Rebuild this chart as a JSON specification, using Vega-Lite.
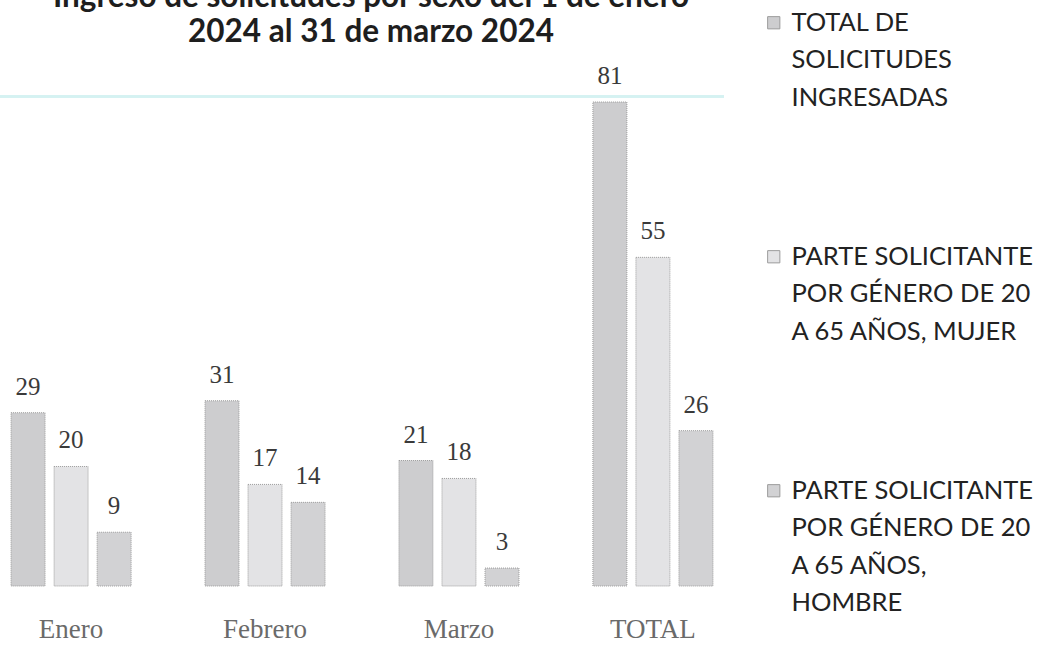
{
  "$schema": "https://vega.github.io/schema/vega-lite/v6.json",
  "autosize": {"type": "none"},
  "width": 724,
  "height": 484,
  "padding": {"top": 102, "left": 0, "right": 319, "bottom": 59},
  "background": "white",
  "title": {
    "text": ["Ingreso de solicitudes por sexo del 1 de enero", "2024 al 31 de marzo 2024"],
    "anchor": "start",
    "align": "center",
    "baseline": "alphabetic",
    "dx": 372,
    "font": "Lato",
    "fontSize": 31.5,
    "fontWeight": "bold",
    "color": "#1e1e1e",
    "lineHeight": 35,
    "offset": -63
  },
  "data": {
    "values": [
      {"mes": "Enero", "serie": "TOTAL DE SOLICITUDES INGRESADAS", "valor": 29},
      {"mes": "Enero", "serie": "PARTE SOLICITANTE POR GÉNERO DE 20 A 65 AÑOS, MUJER", "valor": 20},
      {"mes": "Enero", "serie": "PARTE SOLICITANTE POR GÉNERO DE 20 A 65 AÑOS, HOMBRE", "valor": 9},
      {"mes": "Febrero", "serie": "TOTAL DE SOLICITUDES INGRESADAS", "valor": 31},
      {"mes": "Febrero", "serie": "PARTE SOLICITANTE POR GÉNERO DE 20 A 65 AÑOS, MUJER", "valor": 17},
      {"mes": "Febrero", "serie": "PARTE SOLICITANTE POR GÉNERO DE 20 A 65 AÑOS, HOMBRE", "valor": 14},
      {"mes": "Marzo", "serie": "TOTAL DE SOLICITUDES INGRESADAS", "valor": 21},
      {"mes": "Marzo", "serie": "PARTE SOLICITANTE POR GÉNERO DE 20 A 65 AÑOS, MUJER", "valor": 18},
      {"mes": "Marzo", "serie": "PARTE SOLICITANTE POR GÉNERO DE 20 A 65 AÑOS, HOMBRE", "valor": 3},
      {"mes": "TOTAL", "serie": "TOTAL DE SOLICITUDES INGRESADAS", "valor": 81},
      {"mes": "TOTAL", "serie": "PARTE SOLICITANTE POR GÉNERO DE 20 A 65 AÑOS, MUJER", "valor": 55},
      {"mes": "TOTAL", "serie": "PARTE SOLICITANTE POR GÉNERO DE 20 A 65 AÑOS, HOMBRE", "valor": 26}
    ]
  },
  "encoding": {
    "y": {
      "field": "valor", "type": "quantitative",
      "scale": {"domain": [0, 81], "nice": false},
      "axis": null
    }
  },
  "layer": [
    {
      "mark": {"type": "rule", "color": "#d5f2f2", "strokeWidth": 2},
      "encoding": {"y": {"datum": 81.9}}
    },
    {
      "mark": {"type": "bar", "stroke": "#9c9c9c", "strokeWidth": 1, "strokeDash": [1, 1]},
      "encoding": {
        "x": {
          "field": "mes", "type": "nominal", "sort": ["Enero", "Febrero", "Marzo", "TOTAL"],
          "scale": {"paddingInner": 0.381, "paddingOuter": 0.057},
          "axis": {"title": null, "domain": false, "ticks": false, "labelAngle": 0, "labelFont": "Liberation Serif", "labelFontSize": 27, "labelColor": "#6a6a6a", "labelPadding": 30}
        },
        "xOffset": {
          "field": "serie", "type": "nominal",
          "sort": ["TOTAL DE SOLICITUDES INGRESADAS", "PARTE SOLICITANTE POR GÉNERO DE 20 A 65 AÑOS, MUJER", "PARTE SOLICITANTE POR GÉNERO DE 20 A 65 AÑOS, HOMBRE"],
          "scale": {"paddingInner": 0.21, "paddingOuter": 0}
        },
        "color": {
          "field": "serie", "type": "nominal",
          "sort": ["TOTAL DE SOLICITUDES INGRESADAS", "PARTE SOLICITANTE POR GÉNERO DE 20 A 65 AÑOS, MUJER", "PARTE SOLICITANTE POR GÉNERO DE 20 A 65 AÑOS, HOMBRE"],
          "scale": {"range": ["#cdcdcf", "#e3e3e5", "#d2d2d4"]},
          "legend": {
            "title": null,
            "orient": "none",
            "legendX": 761,
            "legendY": -92,
            "symbolType": "square",
            "symbolSize": 150,
            "symbolStrokeColor": "#9c9c9c",
            "symbolStrokeWidth": 1,
            "labelFont": "Lato",
            "labelFontSize": 25.5,
            "labelColor": "#222222",
            "labelLimit": 400,
            "labelOffset": 5,
            "rowPadding": 132,
            "labelExpr": "datum.label == 'PARTE SOLICITANTE POR GÉNERO DE 20 A 65 AÑOS, MUJER' ? ['PARTE SOLICITANTE', 'POR GÉNERO DE 20', 'A 65 AÑOS,  MUJER'] : datum.label == 'PARTE SOLICITANTE POR GÉNERO DE 20 A 65 AÑOS, HOMBRE' ? ['PARTE SOLICITANTE', 'POR GÉNERO DE 20', 'A 65 AÑOS,', 'HOMBRE'] : ['TOTAL DE', 'SOLICITUDES', 'INGRESADAS']"
          }
        }
      }
    },
    {
      "mark": {"type": "text", "baseline": "alphabetic", "dy": -18, "font": "Liberation Serif", "fontSize": 25, "color": "#3a3a3a"},
      "encoding": {
        "x": {"field": "mes", "type": "nominal", "sort": ["Enero", "Febrero", "Marzo", "TOTAL"]},
        "xOffset": {
          "field": "serie", "type": "nominal",
          "sort": ["TOTAL DE SOLICITUDES INGRESADAS", "PARTE SOLICITANTE POR GÉNERO DE 20 A 65 AÑOS, MUJER", "PARTE SOLICITANTE POR GÉNERO DE 20 A 65 AÑOS, HOMBRE"]
        },
        "text": {"field": "valor", "type": "quantitative"}
      }
    }
  ],
  "config": {
    "view": {"stroke": null},
    "style": {"guide-label": {"lineHeight": 37.5}}
  }
}
